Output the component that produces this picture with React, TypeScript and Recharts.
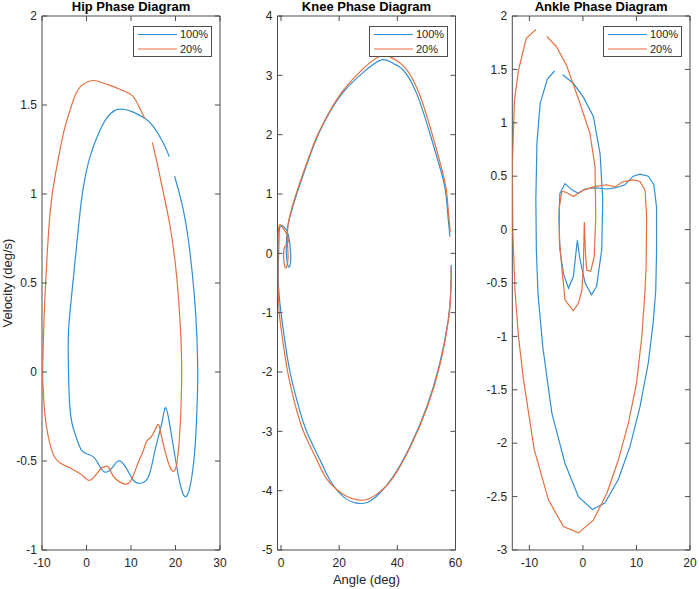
import React from 'react';
import { LineChart, Line, XAxis, YAxis, ReferenceArea } from 'recharts';

type Pt = [number, number];

// angle (deg), velocity (deg/s) pairs, in the order the curve is traced
const hip100: Pt[] = [
  [19.8, 1.1], [21.4, 0.95], [22.9, 0.74], [24.2, 0.44], [24.8, 0.2], [25.0, 0.0],
  [24.9, -0.15], [24.4, -0.42], [23.3, -0.64], [22.1, -0.7], [21.0, -0.625], [19.9, -0.476],
  [18.8, -0.31], [17.8, -0.2], [16.9, -0.29], [15.4, -0.44], [13.9, -0.59], [12.0, -0.625],
  [10.5, -0.607], [8.7, -0.53], [7.1, -0.5], [5.7, -0.54], [3.9, -0.56], [2.3, -0.5],
  [0.8, -0.466], [-1.1, -0.44], [-2.6, -0.345], [-3.7, -0.21], [-4.1, 0.086], [-4.0, 0.25],
  [-3.3, 0.44], [-1.8, 0.816], [-0.7, 1.04], [0.8, 1.21], [2.7, 1.34], [4.5, 1.425],
  [6.4, 1.47], [8.3, 1.476], [10.5, 1.46], [13.1, 1.425], [15.0, 1.38], [17.3, 1.285], [18.6, 1.21],
];

const hip20: Pt[] = [
  [14.8, 1.29], [16.0, 1.16], [17.0, 1.04], [18.8, 0.816], [20.0, 0.6], [20.6, 0.44],
  [21.2, 0.2], [21.4, 0.0], [21.3, -0.15], [21.0, -0.326], [20.3, -0.513], [19.1, -0.55],
  [17.6, -0.44], [16.5, -0.32], [15.9, -0.3], [14.65, -0.36], [13.5, -0.39], [12.8, -0.44],
  [11.6, -0.51], [10.2, -0.6], [8.65, -0.63], [6.4, -0.597], [5.5, -0.56], [4.7, -0.53],
  [3.8, -0.535], [3.0, -0.55], [0.9, -0.607], [-0.5, -0.59], [-2.2, -0.56], [-4.0, -0.535],
  [-6.0, -0.51], [-7.8, -0.44], [-9.3, -0.25], [-9.7, -0.1], [-9.85, 0.0], [-9.6, 0.25],
  [-9.3, 0.44], [-8.2, 0.89], [-6.7, 1.15], [-5.2, 1.34], [-3.7, 1.47], [-2.6, 1.55],
  [-1.1, 1.61], [0.8, 1.635], [2.3, 1.635], [5.3, 1.61], [8.3, 1.58], [10.4, 1.55],
  [11.6, 1.5], [13.1, 1.425],
];

const knee100: Pt[] = [
  [58.5, -0.2], [58.4, -0.62], [57.5, -1.12], [54.6, -1.85], [50.1, -2.59], [44.3, -3.26],
  [38.6, -3.76], [34.0, -4.04], [30.0, -4.19], [26.0, -4.21], [21.4, -4.1], [16.8, -3.82],
  [13.4, -3.48], [8.8, -3.0], [5.6, -2.5], [3.1, -2.0], [1.4, -1.5], [0.0, -1.0],
  [-0.9, -0.5], [-0.85, -0.1], [-0.7, 0.2], [-0.5, 0.42], [0.3, 0.47], [1.5, 0.42],
  [2.6, 0.3], [3.3, 0.0], [3.2, -0.18], [2.6, -0.23], [2.0, -0.1], [1.8, 0.1],
  [2.0, 0.3], [2.3, 0.45], [3.1, 0.62], [5.4, 1.0], [7.5, 1.3], [9.4, 1.57],
  [12.8, 2.0], [17.0, 2.4], [22.0, 2.75], [28.3, 3.05], [34.6, 3.26], [38.6, 3.2],
  [42.0, 3.09], [46.6, 2.7], [51.2, 2.02], [55.8, 1.24], [57.0, 0.85], [58.1, 0.28],
];

const knee20: Pt[] = [
  [58.6, -0.2], [58.4, -0.62], [57.6, -1.12], [54.8, -1.85], [50.3, -2.59], [44.5, -3.26],
  [38.8, -3.76], [34.0, -4.02], [30.0, -4.14], [27.0, -4.16], [22.0, -4.08], [16.0, -3.82],
  [12.3, -3.48], [7.7, -3.0], [4.6, -2.5], [2.3, -2.0], [0.7, -1.5], [-0.6, -1.0],
  [-1.0, -0.5], [-1.05, 0.0], [-0.9, 0.38], [-0.3, 0.48], [1.0, 0.4], [2.2, 0.3],
  [2.4, 0.18], [1.2, 0.1], [0.9, -0.05], [1.2, -0.2], [1.8, -0.24], [2.4, -0.1],
  [2.3, 0.1], [2.2, 0.35], [2.9, 0.6], [5.2, 1.0], [9.2, 1.57], [12.6, 2.0],
  [16.8, 2.4], [21.8, 2.77], [28.0, 3.1], [34.5, 3.33], [39.0, 3.27], [42.8, 3.12],
  [47.3, 2.72], [51.8, 2.04], [56.2, 1.24], [57.3, 0.85], [58.2, 0.36],
];

const ankle100: Pt[] = [
  [-5.3, 1.485], [-6.65, 1.41], [-8.0, 1.18], [-8.6, 0.81], [-8.8, 0.28], [-8.7, -0.2],
  [-8.4, -0.6], [-7.5, -1.1], [-5.8, -1.72], [-3.35, -2.19], [-0.85, -2.5], [1.75, -2.62],
  [4.1, -2.56], [6.6, -2.34], [8.8, -2.03], [10.65, -1.66], [12.2, -1.25], [13.1, -0.88],
  [13.6, -0.57], [13.75, -0.2], [13.75, 0.21], [13.25, 0.42], [12.2, 0.5], [10.65, 0.52],
  [9.4, 0.5], [7.85, 0.42], [6.0, 0.39], [4.45, 0.38], [2.25, 0.39], [0.4, 0.38],
  [-0.85, 0.34], [-2.0, 0.37], [-3.35, 0.43], [-4.3, 0.34], [-4.5, 0.12], [-4.3, -0.19],
  [-3.65, -0.41], [-2.7, -0.55], [-1.8, -0.44], [-1.05, -0.1], [-0.55, -0.28], [0.4, -0.5],
  [1.6, -0.61], [2.55, -0.53], [3.5, -0.19], [3.7, 0.28], [3.2, 0.71], [1.95, 1.06],
  [0.07, 1.24], [-1.8, 1.37], [-3.8, 1.45],
];

const ankle20: Pt[] = [
  [-8.75, 1.875], [-10.6, 1.79], [-12.05, 1.49], [-12.8, 1.21], [-13.2, 0.59], [-13.1, -0.03],
  [-12.7, -0.57], [-12.05, -1.0], [-11.1, -1.41], [-9.1, -2.06], [-6.45, -2.53], [-3.65, -2.78],
  [-0.85, -2.84], [1.95, -2.72], [4.45, -2.47], [6.6, -2.16], [8.5, -1.81], [10.0, -1.44],
  [11.0, -1.0], [11.6, -0.57], [11.8, -0.35], [11.9, 0.12], [11.6, 0.37], [10.65, 0.45],
  [9.4, 0.465], [7.5, 0.45], [6.0, 0.4], [4.45, 0.42], [1.95, 0.4], [0.07, 0.37],
  [-1.8, 0.31], [-3.15, 0.35], [-3.95, 0.36], [-4.4, 0.21], [-4.4, -0.1], [-3.95, -0.35],
  [-3.35, -0.66], [-1.8, -0.76], [-0.85, -0.69], [-0.2, -0.57], [0.07, -0.35], [0.26, 0.07],
  [0.45, -0.2], [0.7, -0.38], [1.45, -0.39], [2.1, -0.25], [2.4, 0.12], [2.25, 0.59],
  [1.3, 0.9], [-0.54, 1.18], [-3.0, 1.53], [-4.9, 1.71], [-6.75, 1.81],
];

const seriesNames = ['100%', '20%'];

const hipXTicks = [-10, 0, 10, 20, 30];
const hipYTicks = [-1, -0.5, 0, 0.5, 1, 1.5, 2];
const kneeXTicks = [0, 20, 40, 60];
const kneeYTicks = [-5, -4, -3, -2, -1, 0, 1, 2, 3, 4];
const ankleXTicks = [-10, 0, 10, 20];
const ankleYTicks = [-3, -2.5, -2, -1.5, -1, -0.5, 0, 0.5, 1, 1.5, 2];

const FIG_W = 699;
const FIG_H = 589;
const PLOT_TOP = 16;
const PLOT_BOTTOM = 550;
const X_AXIS_H = 30;
const Y_AXIS_W = 30;
const TICK = 5;
const AXIS = '#4d4d4d';
const TEXT = '#262626';
const BLUE = '#2f8fd6';
const ORANGE = '#e66f3e';
const FONT = '"Liberation Sans", Arial, Helvetica, sans-serif';

const toRows = (pts: Pt[]) => pts.map(([x, y]) => ({ x, y }));

interface PanelProps {
  title: string;
  left: number;
  width: number;
  plotL: number;
  plotR: number;
  xDomain: [number, number];
  yDomain: [number, number];
  xTicks: number[];
  yTicks: number[];
  s100: Pt[];
  s20: Pt[];
  curve: 'natural' | 'linear';
}

function Panel({ title, left, width, plotL, plotR, xDomain, yDomain, xTicks, yTicks, s100, s20, curve }: PanelProps) {
  const lLoc = plotL - left;
  const rLoc = plotR - left;
  const margin = {
    top: PLOT_TOP,
    right: left + width - plotR,
    bottom: FIG_H - PLOT_BOTTOM - X_AXIS_H,
    left: lLoc - Y_AXIS_W,
  };

  // MATLAB style: ticks point inward on all four sides
  const yTick = (p: any) => (
    <g>
      <line x1={lLoc} x2={lLoc + TICK} y1={p.y} y2={p.y} stroke={AXIS} />
      <line x1={rLoc - TICK} x2={rLoc} y1={p.y} y2={p.y} stroke={AXIS} />
      <text x={lLoc - 5} y={p.y} dy="0.35em" textAnchor="end" fontSize={12} fill={TEXT} fontFamily={FONT}>
        {p.payload.value}
      </text>
    </g>
  );
  const xTick = (p: any) => (
    <g>
      <line x1={p.x} x2={p.x} y1={PLOT_BOTTOM} y2={PLOT_BOTTOM - TICK} stroke={AXIS} />
      <line x1={p.x} x2={p.x} y1={PLOT_TOP} y2={PLOT_TOP + TICK} stroke={AXIS} />
      <text x={p.x} y={PLOT_BOTTOM + 8} dy="0.75em" textAnchor="middle" fontSize={12} fill={TEXT} fontFamily={FONT}>
        {p.payload.value}
      </text>
    </g>
  );

  const legendW = 79;
  const legendLeft = plotR - 8 - legendW;

  return (
    <>
      <div style={{ position: 'absolute', left, top: 0 }}>
        <LineChart width={width} height={FIG_H} margin={margin}>
          <XAxis
            type="number"
            dataKey="x"
            domain={xDomain}
            ticks={xTicks}
            interval={0}
            allowDataOverflow
            height={X_AXIS_H}
            axisLine={false}
            tickLine={false}
            tickSize={0}
            tick={xTick}
          />
          <YAxis
            type="number"
            dataKey="y"
            domain={yDomain}
            ticks={yTicks}
            interval={0}
            allowDataOverflow
            width={Y_AXIS_W}
            axisLine={false}
            tickLine={false}
            tickSize={0}
            tick={yTick}
          />
          <Line
            data={toRows(s100)}
            dataKey="y"
            name={seriesNames[0]}
            type={curve}
            stroke={BLUE}
            strokeWidth={1.2}
            dot={false}
            activeDot={false}
            isAnimationActive={false}
          />
          <Line
            data={toRows(s20)}
            dataKey="y"
            name={seriesNames[1]}
            type={curve}
            stroke={ORANGE}
            strokeWidth={1.2}
            dot={false}
            activeDot={false}
            isAnimationActive={false}
          />
          <ReferenceArea
            x1={xDomain[0]}
            x2={xDomain[1]}
            y1={yDomain[0]}
            y2={yDomain[1]}
            fill="none"
            stroke={AXIS}
            strokeWidth={1}
            ifOverflow="visible"
          />
        </LineChart>
      </div>
      <div
        style={{
          position: 'absolute', left: plotL, top: 0, width: plotR - plotL, textAlign: 'center',
          fontSize: 13, lineHeight: '14px', fontWeight: 'bold', color: '#000',
        }}
      >
        {title}
      </div>
      <div
        style={{
          position: 'absolute', left: legendLeft, top: 26, width: legendW, height: 31,
          boxSizing: 'border-box', border: `1px solid ${AXIS}`, background: '#fff',
        }}
      >
        <svg width={legendW - 2} height={29} style={{ position: 'absolute', left: 0, top: 0 }}>
          <line x1={4} x2={43} y1={7.5} y2={7.5} stroke={BLUE} strokeWidth={1.2} />
          <line x1={4} x2={43} y1={22} y2={22} stroke={ORANGE} strokeWidth={1.2} />
          <text x={46} y={7.5} dy="0.35em" fontSize={11} fill={TEXT} fontFamily={FONT}>{seriesNames[0]}</text>
          <text x={46} y={22} dy="0.35em" fontSize={11} fill={TEXT} fontFamily={FONT}>{seriesNames[1]}</text>
        </svg>
      </div>
    </>
  );
}

export default function App() {
  return (
    <div
      style={{
        position: 'absolute', left: 0, top: 0, width: FIG_W, height: FIG_H,
        background: '#fff', fontFamily: FONT, overflow: 'hidden',
      }}
    >
      <Panel
        title="Hip Phase Diagram"
        left={0}
        width={230}
        plotL={42}
        plotR={220}
        xDomain={[-10, 30]}
        yDomain={[-1, 2]}
        xTicks={hipXTicks}
        yTicks={hipYTicks}
        s100={hip100}
        s20={hip20}
        curve="natural"
      />
      <Panel
        title="Knee Phase Diagram"
        left={235}
        width={230}
        plotL={277.5}
        plotR={455.5}
        xDomain={[-1.2, 60]}
        yDomain={[-5, 4]}
        xTicks={kneeXTicks}
        yTicks={kneeYTicks}
        s100={knee100}
        s20={knee20}
        curve="natural"
      />
      <Panel
        title="Ankle Phase Diagram"
        left={470}
        width={229}
        plotL={512.3}
        plotR={690}
        xDomain={[-13.2, 20]}
        yDomain={[-3, 2]}
        xTicks={ankleXTicks}
        yTicks={ankleYTicks}
        s100={ankle100}
        s20={ankle20}
        curve="linear"
      />
      <div
        style={{
          position: 'absolute', left: 8 - 70, top: 283 - 8, width: 140, height: 16, lineHeight: '16px',
          textAlign: 'center', fontSize: 13, color: TEXT, transform: 'rotate(-90deg)',
        }}
      >
        Velocity (deg/s)
      </div>
      <div
        style={{
          position: 'absolute', left: 277.5, top: 572, width: 178, lineHeight: '16px',
          textAlign: 'center', fontSize: 13, color: TEXT,
        }}
      >
        Angle (deg)
      </div>
    </div>
  );
}
